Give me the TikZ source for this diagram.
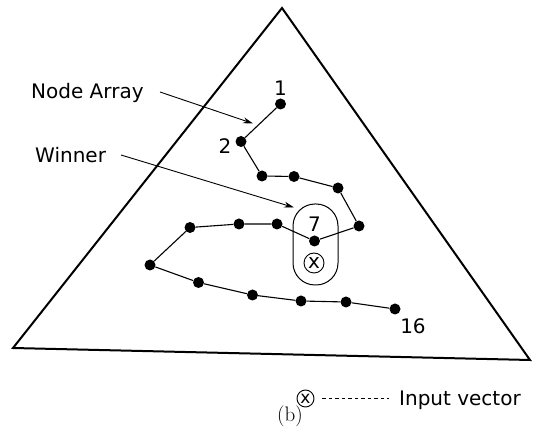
\documentclass[tikz,border=0pt]{standalone}
\usepackage{fontspec}
\setsansfont{DejaVu Sans}
\usetikzlibrary{arrows.meta}
\tikzset{
  dot/.style={circle,fill=black,inner sep=0pt,minimum size=11pt},
  lbl/.style={font=\sffamily\fontsize{20}{24}\selectfont,inner sep=0pt},
  chain/.style={line width=1.1pt},
  pointer/.style={line width=0.9pt,-{Stealth[length=10pt,width=6pt]}},
  xcirc/.style={circle,draw,line width=0.9pt,inner sep=0pt,font=\sffamily\fontsize{20}{20}\selectfont},
}
\begin{document}
\begin{tikzpicture}[x=1pt,y=-1pt]
\useasboundingbox (0,0) rectangle (533,427);
% triangle
\coordinate (tA) at (282,8);
\coordinate (tL) at (13,348);
\coordinate (tR) at (530,360);
\draw[line width=2pt,line join=miter] (tA) -- (tL) -- (tR) -- cycle;
% capsule around winner
\node[draw,line width=1pt,rounded corners=22pt,minimum width=45pt,minimum height=81pt] (cap) at (315.5,244.5) {};
% nodes
\node[dot] (n1) at (280.5,104) {};
\node[dot] (n2) at (241,141.5) {};
\node[dot] (n3) at (262,176) {};
\node[dot] (n4) at (294,176.5) {};
\node[dot] (n5) at (338,188) {};
\node[dot] (n6) at (359,226) {};
\node[dot] (n7) at (314.5,241) {};
\node[dot] (n8) at (277,224) {};
\node[dot] (n9) at (239,224) {};
\node[dot] (n10) at (190,227.5) {};
\node[dot] (n11) at (150,265) {};
\node[dot] (n12) at (198.5,282.5) {};
\node[dot] (n13) at (252.5,295) {};
\node[dot] (n14) at (301,301) {};
\node[dot] (n15) at (346,302) {};
\node[dot] (n16) at (395,309) {};
\draw[chain] (n1) -- (n2) -- (n3) -- (n4) -- (n5) -- (n6) -- (n7) -- (n8) -- (n9) -- (n10) -- (n11) -- (n12) -- (n13) -- (n14) -- (n15) -- (n16);
% numbers
\node[lbl,anchor=base] (l1) at (280.5,95.5) {1};
\node[lbl,anchor=base] (l2) at (225,154) {2};
\node[lbl,anchor=base] (l16) at (413,334) {16};
\node[lbl,anchor=base] (l7) at (314.5,232) {7};
% input vector in capsule
\node[xcirc,minimum size=20pt] (inx) at (314,263) {x};
% labels with pointers
\node[lbl,anchor=base west] (lblA) at (31,99) {Node Array};
\node[lbl,anchor=base west] (lblW) at (35,163) {Winner};
\coordinate (aS) at (160,92);
\coordinate (aE) at (253,123.5);
\coordinate (wS) at (121,155);
\coordinate (wE) at (294,207.5);
\draw[pointer] (aS) -- (aE);
\draw[pointer] (wS) -- (wE);
% legend
\node[xcirc,minimum size=17pt,font=\sffamily\fontsize{17}{17}\selectfont] (legx) at (305.5,398.5) {x};
\node[lbl,anchor=base west] (legt) at (399,406) {Input vector};
\draw[line width=0.8pt,dash pattern=on 3.5pt off 3pt] ([xshift=8pt]legx.east) -- ([xshift=-10pt]legt.west |- legx.east);
% caption
\node[font=\fontsize{21}{24}\selectfont,inner sep=0pt] (cap2) at (290,416) {(b)};
\end{tikzpicture}
\end{document}
